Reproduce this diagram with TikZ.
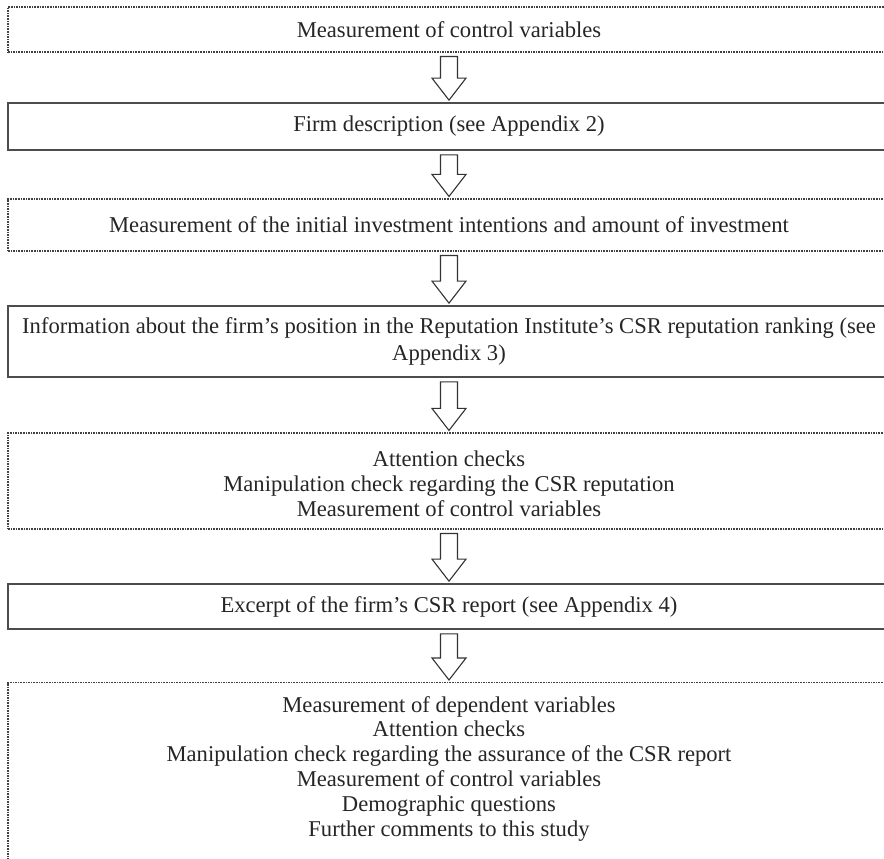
\documentclass[tikz,border=0pt]{standalone}
\usepackage{fontspec}
\setmainfont{Liberation Serif}
\usetikzlibrary{calc}
\tikzset{
  every node/.style={font=\fontsize{22.6}{24.8}\selectfont, align=center, inner sep=0pt, text=black!85},
  dbox/.style={draw=black!75, line width=1.1pt, dash pattern=on 1.6pt off 1pt, minimum width=882pt},
  sbox/.style={draw=black!70, line width=1.7pt, minimum width=882pt},
  arr/.style={draw=black!80, line width=1.1pt, fill=white, line join=miter}
}
\newcommand{\barrow}[2]{%
  \draw[arr] let \p1=(#1.south), \p2=(#2.north) in
    ($(\x1,\y1)+(-8.5pt,-4pt)$) -- ($(\x1,\y1)+(8.5pt,-4pt)$) --
    ($(\x1,\y2)+(8.5pt,24pt)$) -- ($(\x1,\y2)+(17pt,24pt)$) --
    ($(\x1,\y2)+(0pt,2pt)$) -- ($(\x1,\y2)+(-17pt,24pt)$) --
    ($(\x1,\y2)+(-8.5pt,24pt)$) -- cycle;}
\begin{document}
\begin{tikzpicture}[x=1pt,y=1pt]
\useasboundingbox (0,0) rectangle (884,859);
\fill[white] (0,0) rectangle (884,859);
\node[dbox, minimum height=45pt] (b1) at (449,829.5) {Measurement of control variables};
\node[sbox, minimum height=47pt] (b2) at (449,732.5) {Firm description (see Appendix 2)};
\node[dbox, minimum height=52pt] (b3) at (449,634) {Measurement of the initial investment intentions and amount of investment};
\node[sbox, minimum height=71pt] (b4) at (449,517.5) {Information about the firm’s position in the Reputation Institute’s CSR reputation ranking (see\\[1.5pt]Appendix 3)};
\node[dbox, minimum height=96pt] (b5) at (449,378) {};
\node[anchor=center] (t5) at (449,375) {Attention checks\\Manipulation check regarding the CSR reputation\\Measurement of control variables};
\node[sbox, minimum height=45pt] (b6) at (449,252.5) {Excerpt of the firm’s CSR report (see Appendix 4)};
\node[dbox, minimum height=200pt, anchor=north] (b7) at (449,177) {};
\node[anchor=north] (t7) at (449,163) {Measurement of dependent variables\\Attention checks\\Manipulation check regarding the assurance of the CSR report\\Measurement of control variables\\Demographic questions\\Further comments to this study};
\barrow{b1}{b2}
\barrow{b2}{b3}
\barrow{b3}{b4}
\barrow{b4}{b5}
\barrow{b5}{b6}
\barrow{b6}{b7}
\end{tikzpicture}
\end{document}
